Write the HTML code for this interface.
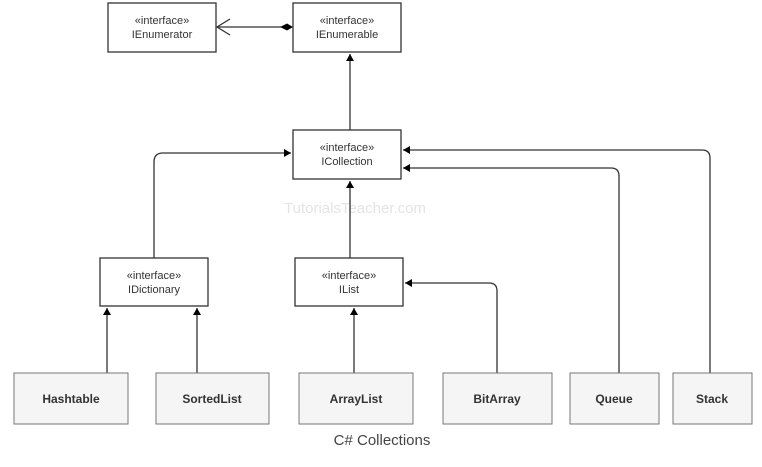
<!DOCTYPE html>
<html><head><style>
body{margin:0;background:#fff;width:762px;height:462px;overflow:hidden}
svg text{font-family:"Liberation Sans",Arial,sans-serif}
</style></head><body>
<svg width="762" height="462" viewBox="0 0 762 462" xmlns="http://www.w3.org/2000/svg">
<defs>
<marker id="a" markerWidth="8" markerHeight="8" refX="7" refY="4" orient="auto" markerUnits="userSpaceOnUse"><path d="M0,0 L7,4 L0,8 Z" fill="#000"/></marker>
</defs>
<text x="355" y="213" font-size="15" fill="#e4e4e4" text-anchor="middle">TutorialsTeacher.com</text>
<g fill="none" stroke="#333" stroke-width="1.3">
<line x1="350" y1="130" x2="350" y2="54" marker-end="url(#a)"/>
<line x1="350" y1="258" x2="350" y2="181" marker-end="url(#a)"/>
<line x1="354" y1="373" x2="354" y2="308" marker-end="url(#a)"/>
<line x1="107" y1="373" x2="107" y2="308" marker-end="url(#a)"/>
<line x1="197" y1="373" x2="197" y2="308" marker-end="url(#a)"/>
<path d="M154,258 V162 Q154,153 163,153 H291" marker-end="url(#a)"/>
<path d="M497,373 V291 Q497,283 489,283 H405" marker-end="url(#a)"/>
<path d="M619,373 V176 Q619,168 611,168 H403" marker-end="url(#a)"/>
<path d="M710,373 V158 Q710,150 702,150 H403" marker-end="url(#a)"/>
<line x1="281" y1="27" x2="217" y2="27"/>
<path d="M230,19 L217,27 L230,35"/>
</g>
<path d="M293,27 L287,23.5 L280,27 L287,30.5 Z" fill="#000"/>
<g stroke="#333" stroke-width="1.3" fill="#fff">
<rect x="108" y="3" width="108" height="49"/>
<rect x="293" y="3" width="108" height="49"/>
<rect x="293" y="130" width="108" height="49"/>
<rect x="100" y="258" width="108" height="48"/>
<rect x="295" y="258" width="108" height="48"/>
</g>
<g stroke="#777" stroke-width="1" fill="#f5f5f5">
<rect x="14" y="373" width="114" height="51"/>
<rect x="156" y="373" width="113" height="51"/>
<rect x="299" y="373" width="114" height="51"/>
<rect x="443" y="373" width="109" height="51"/>
<rect x="570" y="373" width="89" height="51"/>
<rect x="673" y="373" width="79" height="51"/>
</g>
<g font-size="11" fill="#333" text-anchor="middle">
<text x="162" y="24">«interface»</text><text x="162" y="38">IEnumerator</text>
<text x="347" y="24">«interface»</text><text x="347" y="38">IEnumerable</text>
<text x="347" y="151">«interface»</text><text x="347" y="165">ICollection</text>
<text x="154" y="279">«interface»</text><text x="154" y="293">IDictionary</text>
<text x="349" y="279">«interface»</text><text x="349" y="293">IList</text>
</g>
<g font-size="12" font-weight="bold" fill="#333" text-anchor="middle">
<text x="71" y="403">Hashtable</text>
<text x="212" y="403">SortedList</text>
<text x="356" y="403">ArrayList</text>
<text x="497" y="403">BitArray</text>
<text x="614" y="403">Queue</text>
<text x="712" y="403">Stack</text>
</g>
<text x="382" y="445" font-size="15" fill="#444" text-anchor="middle">C# Collections</text>
</svg>
</body></html>
